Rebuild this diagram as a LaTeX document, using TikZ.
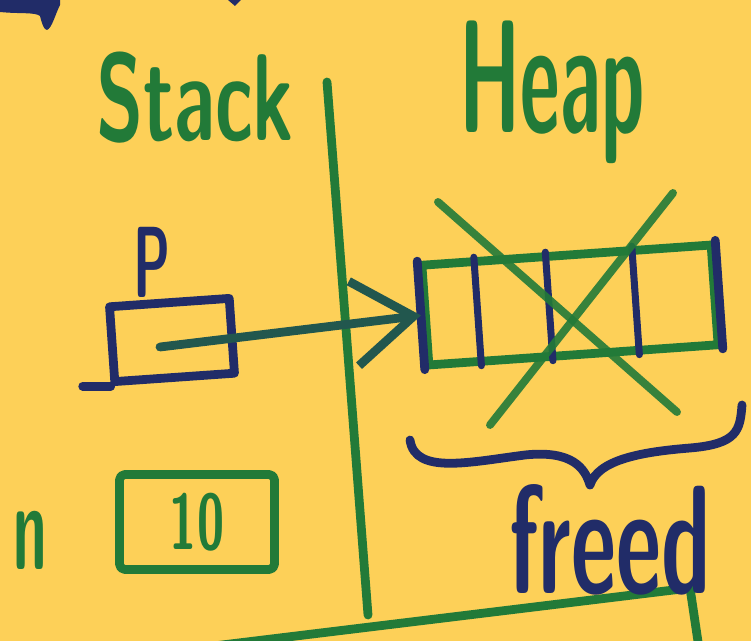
\documentclass[tikz,border=0pt]{standalone}
\usetikzlibrary{positioning,arrows.meta,calc}
\definecolor{Paper}{RGB}{253,208,88}
\definecolor{MarkerGreen}{RGB}{34,122,56}
\definecolor{MarkerBlue}{RGB}{33,44,104}

\begin{document}
\begin{tikzpicture}[x=0.02cm, y=-0.02cm, line cap=round, line join=round]
\tikzset{
  gpen/.style={draw=MarkerGreen, line width=5pt},
  bpen/.style={draw=MarkerBlue, line width=5pt},
  gword/.style={text=MarkerGreen, font=\sffamily\bfseries\fontsize{44}{44}\selectfont, inner sep=0pt, transform shape, yscale=1.6},
  bword/.style={text=MarkerBlue, font=\sffamily\bfseries\fontsize{44}{44}\selectfont, inner sep=0pt, transform shape, yscale=1.6},
  cell/.style={minimum width=5.8cm, minimum height=2cm, rotate=4, transform shape},
  ptr/.style={-{Straight Barb[length=1.2cm, width=1.7cm]}, line width=5pt, draw=MarkerGreen!55!MarkerBlue}
}
  \fill[Paper] (0,0) rectangle (751,641);
  \useasboundingbox (0,0) rectangle (751,641);

  % scraps of ink cut off at the top
  \fill[MarkerBlue] (0,0) -- (0,12) .. controls (20,14) and (35,12) .. (40,16)
    .. controls (42,24) and (44,30) .. (47,30) .. controls (52,28) and (55,15) .. (60,5) -- (60,0) -- cycle;
  \fill[MarkerBlue] (228,0) -- (241,0) -- (235,6) -- cycle;

  \node[gword] (stack) at (195,98) {Stack};
  \node[gword, yscale=1.3] (heaplabel) at (552,92) {Heap};

  \draw[gpen] (327,82) -- (368,615);
  \draw[gpen] (140,655) -- (690,588) -- (700,655);

  % pointer on the stack
  \node[bword, font=\sffamily\bfseries\fontsize{30}{30}\selectfont, yscale=1.2] (plabel) at (152,262) {P};
  \node[bpen, minimum width=2.4cm, minimum height=1.5cm, rotate=4, transform shape] (pbox) at (172,340) {};
  \draw[bpen] (pbox.south west) -- ++(-28,0);
  \coordinate (pdot) at (160,347);

  % array on the heap
  \node[gpen, cell] (heap) at (570,305) {};
  \draw[bpen] (heap.north west) -- (heap.south west);
  \draw[bpen] (heap.north east) -- (heap.south east);
  \foreach \f in {0.19,0.43,0.72}
    \draw[bpen, line width=4pt] ($(heap.north west)!\f!(heap.north east)$) -- ($(heap.south west)!\f!(heap.south east)$);
  \draw[ptr] (pdot) -- (heap.west);

  % crossed out
  \draw[gpen, line width=4.5pt, opacity=0.9] (438,202) -- (677,412);
  \draw[gpen, line width=4.5pt, opacity=0.9] (673,193) -- (490,425);

  \draw[bpen] (410,440) .. controls (415,475) and (470,462) .. (525,455)
    .. controls (572,450) and (585,468) .. (590,485)
    .. controls (598,460) and (640,452) .. (690,448)
    .. controls (738,444) and (740,430) .. (742,405);
  \node[bword, font=\sffamily\bfseries\fontsize{50}{50}\selectfont, yscale=1.1] (freed) at (610,540) {freed};

  % int on the stack
  \node[gword, font=\sffamily\bfseries\fontsize{34}{34}\selectfont, yscale=1.3] (nlabel) at (30,540) {n};
  \node[gpen, minimum width=3.1cm, minimum height=1.9cm, rounded corners=3pt] (nbox) at (197,522) {};
  \node[gword, font=\sffamily\bfseries\fontsize{28}{28}\selectfont, yscale=1.0] (nval) at (nbox.center) {10};
\end{tikzpicture}
\end{document}
